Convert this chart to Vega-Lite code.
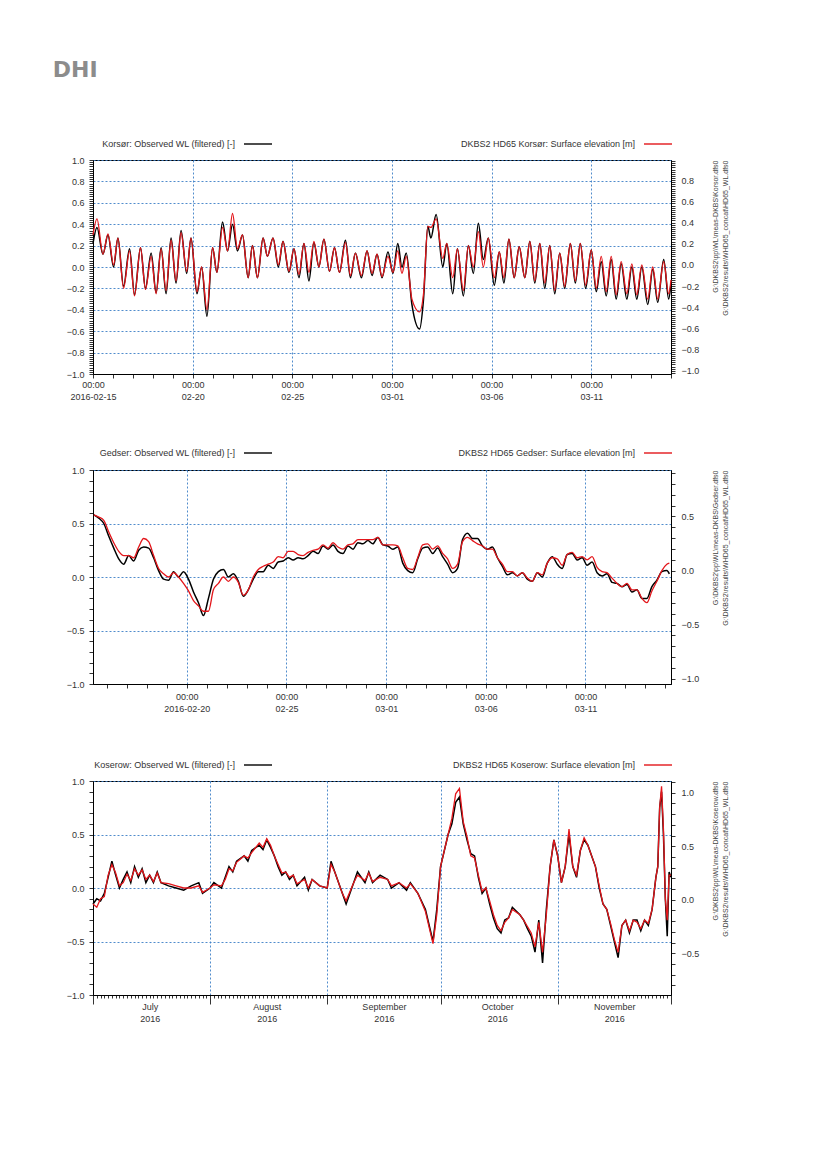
{
"$schema": "https://vega.github.io/schema/vega-lite/v6.json",
"background": "white",
"padding": {"left": 52, "top": 58, "right": 5, "bottom": 5},
"title": {"text": "DHI", "anchor": "start", "fontSize": 22, "fontWeight": "bold", "color": "#8c8c8c", "font": "DejaVu Sans", "offset": 47, "dx": -13},
"spacing": 35,
"resolve": {"scale": {"color": "independent", "stroke": "independent"}},
"datasets": {
"korsor": [
{"t":"2016-02-15T00:00","obs":0.22,"mod":0.30},
{"t":"2016-02-15T04:48","obs":0.37,"mod":0.45},
{"t":"2016-02-15T12:00","obs":0.12,"mod":0.12},
{"t":"2016-02-15T18:00","obs":0.30,"mod":0.31},
{"t":"2016-02-16T00:48","obs":0.00,"mod":0.02},
{"t":"2016-02-16T06:00","obs":0.27,"mod":0.27},
{"t":"2016-02-16T12:48","obs":-0.18,"mod":-0.20},
{"t":"2016-02-16T20:00","obs":0.17,"mod":0.15},
{"t":"2016-02-17T02:00","obs":-0.26,"mod":-0.27},
{"t":"2016-02-17T09:12","obs":0.18,"mod":0.18},
{"t":"2016-02-17T15:12","obs":-0.20,"mod":-0.21},
{"t":"2016-02-17T22:00","obs":0.13,"mod":0.10},
{"t":"2016-02-18T04:00","obs":-0.24,"mod":-0.25},
{"t":"2016-02-18T10:00","obs":0.18,"mod":0.17},
{"t":"2016-02-18T16:00","obs":-0.25,"mod":-0.22},
{"t":"2016-02-18T22:00","obs":0.27,"mod":0.25},
{"t":"2016-02-19T04:00","obs":-0.15,"mod":-0.13},
{"t":"2016-02-19T10:00","obs":0.34,"mod":0.32},
{"t":"2016-02-19T16:48","obs":-0.06,"mod":-0.04},
{"t":"2016-02-19T22:00","obs":0.27,"mod":0.27},
{"t":"2016-02-20T05:12","obs":-0.25,"mod":-0.23},
{"t":"2016-02-20T10:48","obs":0.00,"mod":0.00},
{"t":"2016-02-20T17:12","obs":-0.46,"mod":-0.40},
{"t":"2016-02-21T00:00","obs":0.18,"mod":0.18},
{"t":"2016-02-21T05:12","obs":-0.05,"mod":-0.05},
{"t":"2016-02-21T12:00","obs":0.42,"mod":0.37},
{"t":"2016-02-21T18:00","obs":0.15,"mod":0.15},
{"t":"2016-02-22T00:00","obs":0.40,"mod":0.50},
{"t":"2016-02-22T06:00","obs":0.15,"mod":0.17},
{"t":"2016-02-22T12:00","obs":0.30,"mod":0.30},
{"t":"2016-02-22T18:48","obs":-0.10,"mod":-0.10},
{"t":"2016-02-23T00:00","obs":0.20,"mod":0.20},
{"t":"2016-02-23T06:00","obs":-0.10,"mod":-0.10},
{"t":"2016-02-23T12:48","obs":0.27,"mod":0.27},
{"t":"2016-02-23T18:00","obs":0.10,"mod":0.10},
{"t":"2016-02-24T00:48","obs":0.27,"mod":0.27},
{"t":"2016-02-24T07:12","obs":0.00,"mod":0.02},
{"t":"2016-02-24T12:48","obs":0.24,"mod":0.24},
{"t":"2016-02-24T20:00","obs":-0.05,"mod":-0.04},
{"t":"2016-02-25T02:00","obs":0.17,"mod":0.17},
{"t":"2016-02-25T08:00","obs":-0.10,"mod":-0.07},
{"t":"2016-02-25T14:00","obs":0.22,"mod":0.22},
{"t":"2016-02-25T20:00","obs":-0.13,"mod":-0.05},
{"t":"2016-02-26T02:00","obs":0.23,"mod":0.24},
{"t":"2016-02-26T08:00","obs":0.00,"mod":0.00},
{"t":"2016-02-26T14:00","obs":0.26,"mod":0.26},
{"t":"2016-02-26T20:48","obs":-0.04,"mod":-0.04},
{"t":"2016-02-27T02:48","obs":0.18,"mod":0.18},
{"t":"2016-02-27T08:48","obs":-0.05,"mod":-0.05},
{"t":"2016-02-27T16:00","obs":0.25,"mod":0.23},
{"t":"2016-02-27T22:00","obs":-0.10,"mod":-0.08},
{"t":"2016-02-28T04:00","obs":0.13,"mod":0.13},
{"t":"2016-02-28T11:12","obs":-0.10,"mod":-0.08},
{"t":"2016-02-28T18:00","obs":0.15,"mod":0.15},
{"t":"2016-02-29T00:00","obs":-0.08,"mod":-0.06},
{"t":"2016-02-29T06:00","obs":0.12,"mod":0.12},
{"t":"2016-02-29T12:00","obs":-0.10,"mod":-0.09},
{"t":"2016-02-29T19:12","obs":0.14,"mod":0.10},
{"t":"2016-03-01T01:12","obs":-0.06,"mod":-0.05},
{"t":"2016-03-01T07:00","obs":0.22,"mod":0.15},
{"t":"2016-03-01T12:00","obs":0.00,"mod":-0.06},
{"t":"2016-03-01T17:12","obs":0.13,"mod":0.10},
{"t":"2016-03-02T00:00","obs":-0.35,"mod":-0.30},
{"t":"2016-03-02T09:12","obs":-0.58,"mod":-0.42},
{"t":"2016-03-02T14:00","obs":-0.30,"mod":-0.25},
{"t":"2016-03-02T19:12","obs":0.38,"mod":0.38},
{"t":"2016-03-02T22:48","obs":0.27,"mod":0.37},
{"t":"2016-03-03T05:12","obs":0.49,"mod":0.45},
{"t":"2016-03-03T13:12","obs":0.00,"mod":0.08},
{"t":"2016-03-03T18:00","obs":0.22,"mod":0.22},
{"t":"2016-03-04T01:12","obs":-0.25,"mod":-0.10},
{"t":"2016-03-04T06:48","obs":0.17,"mod":0.17},
{"t":"2016-03-04T14:00","obs":-0.27,"mod":-0.22},
{"t":"2016-03-04T20:00","obs":0.20,"mod":0.20},
{"t":"2016-03-05T02:00","obs":-0.06,"mod":0.00},
{"t":"2016-03-05T08:00","obs":0.41,"mod":0.33},
{"t":"2016-03-05T14:00","obs":0.07,"mod":0.00},
{"t":"2016-03-05T20:00","obs":0.27,"mod":0.27},
{"t":"2016-03-06T03:12","obs":-0.17,"mod":-0.10},
{"t":"2016-03-06T09:12","obs":0.14,"mod":0.14},
{"t":"2016-03-06T14:48","obs":-0.15,"mod":-0.10},
{"t":"2016-03-06T20:48","obs":0.26,"mod":0.26},
{"t":"2016-03-07T03:12","obs":-0.10,"mod":-0.10},
{"t":"2016-03-07T09:12","obs":0.19,"mod":0.19},
{"t":"2016-03-07T16:00","obs":-0.10,"mod":-0.10},
{"t":"2016-03-07T22:00","obs":0.24,"mod":0.24},
{"t":"2016-03-08T04:00","obs":-0.15,"mod":-0.13},
{"t":"2016-03-08T10:00","obs":0.22,"mod":0.22},
{"t":"2016-03-08T16:00","obs":-0.20,"mod":-0.15},
{"t":"2016-03-08T22:00","obs":0.20,"mod":0.20},
{"t":"2016-03-09T04:00","obs":-0.25,"mod":-0.22},
{"t":"2016-03-09T10:00","obs":0.13,"mod":0.13},
{"t":"2016-03-09T16:00","obs":-0.20,"mod":-0.18},
{"t":"2016-03-09T22:48","obs":0.22,"mod":0.22},
{"t":"2016-03-10T04:48","obs":-0.15,"mod":-0.13},
{"t":"2016-03-10T10:48","obs":0.22,"mod":0.22},
{"t":"2016-03-10T17:12","obs":-0.20,"mod":-0.17},
{"t":"2016-03-11T00:00","obs":0.16,"mod":0.16},
{"t":"2016-03-11T06:00","obs":-0.23,"mod":-0.20},
{"t":"2016-03-11T12:00","obs":0.05,"mod":0.10},
{"t":"2016-03-11T18:00","obs":-0.27,"mod":-0.23},
{"t":"2016-03-12T00:00","obs":0.07,"mod":0.10},
{"t":"2016-03-12T06:00","obs":-0.30,"mod":-0.26},
{"t":"2016-03-12T12:00","obs":0.03,"mod":0.05},
{"t":"2016-03-12T18:48","obs":-0.30,"mod":-0.25},
{"t":"2016-03-13T00:48","obs":0.00,"mod":0.03},
{"t":"2016-03-13T06:48","obs":-0.30,"mod":-0.26},
{"t":"2016-03-13T12:48","obs":0.00,"mod":0.02},
{"t":"2016-03-13T20:00","obs":-0.35,"mod":-0.30},
{"t":"2016-03-14T02:00","obs":-0.02,"mod":0.00},
{"t":"2016-03-14T08:00","obs":-0.33,"mod":-0.30},
{"t":"2016-03-14T15:12","obs":0.07,"mod":0.05},
{"t":"2016-03-14T21:12","obs":-0.30,"mod":-0.25},
{"t":"2016-03-15T00:00","obs":-0.15,"mod":-0.12}
],
"gedser": [
{"t":"2016-02-15T08:00","obs":0.58,"mod":0.58},
{"t":"2016-02-15T14:00","obs":0.55,"mod":0.56},
{"t":"2016-02-15T20:00","obs":0.50,"mod":0.53},
{"t":"2016-02-16T02:00","obs":0.38,"mod":0.42},
{"t":"2016-02-16T08:00","obs":0.27,"mod":0.32},
{"t":"2016-02-16T14:00","obs":0.17,"mod":0.24},
{"t":"2016-02-16T20:00","obs":0.12,"mod":0.20},
{"t":"2016-02-17T02:00","obs":0.20,"mod":0.20},
{"t":"2016-02-17T08:00","obs":0.15,"mod":0.18},
{"t":"2016-02-17T14:00","obs":0.25,"mod":0.28},
{"t":"2016-02-17T20:00","obs":0.28,"mod":0.36},
{"t":"2016-02-18T02:00","obs":0.27,"mod":0.33},
{"t":"2016-02-18T08:00","obs":0.18,"mod":0.20},
{"t":"2016-02-18T14:00","obs":0.06,"mod":0.08},
{"t":"2016-02-18T20:00","obs":-0.02,"mod":0.03},
{"t":"2016-02-19T02:00","obs":-0.03,"mod":0.00},
{"t":"2016-02-19T08:00","obs":0.05,"mod":0.04},
{"t":"2016-02-19T14:00","obs":0.00,"mod":0.00},
{"t":"2016-02-19T20:00","obs":0.05,"mod":-0.06},
{"t":"2016-02-20T02:00","obs":-0.02,"mod":-0.13},
{"t":"2016-02-20T08:00","obs":-0.14,"mod":-0.22},
{"t":"2016-02-20T14:00","obs":-0.24,"mod":-0.27},
{"t":"2016-02-20T20:00","obs":-0.36,"mod":-0.32},
{"t":"2016-02-21T02:00","obs":-0.20,"mod":-0.32},
{"t":"2016-02-21T08:00","obs":-0.02,"mod":-0.12},
{"t":"2016-02-21T14:00","obs":0.05,"mod":-0.06},
{"t":"2016-02-21T20:00","obs":0.07,"mod":0.00},
{"t":"2016-02-22T02:00","obs":0.00,"mod":-0.04},
{"t":"2016-02-22T08:00","obs":0.03,"mod":0.00},
{"t":"2016-02-22T14:00","obs":-0.04,"mod":-0.05},
{"t":"2016-02-22T20:00","obs":-0.18,"mod":-0.17},
{"t":"2016-02-23T02:00","obs":-0.12,"mod":-0.12},
{"t":"2016-02-23T08:00","obs":-0.02,"mod":0.00},
{"t":"2016-02-23T14:00","obs":0.05,"mod":0.07},
{"t":"2016-02-23T20:00","obs":0.05,"mod":0.10},
{"t":"2016-02-24T02:00","obs":0.11,"mod":0.12},
{"t":"2016-02-24T08:00","obs":0.08,"mod":0.14},
{"t":"2016-02-24T14:00","obs":0.14,"mod":0.19},
{"t":"2016-02-24T20:00","obs":0.15,"mod":0.18},
{"t":"2016-02-25T02:00","obs":0.18,"mod":0.24},
{"t":"2016-02-25T08:00","obs":0.16,"mod":0.24},
{"t":"2016-02-25T14:00","obs":0.18,"mod":0.21},
{"t":"2016-02-25T20:00","obs":0.17,"mod":0.20},
{"t":"2016-02-26T02:00","obs":0.20,"mod":0.23},
{"t":"2016-02-26T08:00","obs":0.24,"mod":0.25},
{"t":"2016-02-26T14:00","obs":0.22,"mod":0.26},
{"t":"2016-02-26T20:00","obs":0.29,"mod":0.30},
{"t":"2016-02-27T02:00","obs":0.26,"mod":0.27},
{"t":"2016-02-27T08:00","obs":0.30,"mod":0.32},
{"t":"2016-02-27T14:00","obs":0.24,"mod":0.28},
{"t":"2016-02-27T20:00","obs":0.22,"mod":0.26},
{"t":"2016-02-28T02:00","obs":0.29,"mod":0.30},
{"t":"2016-02-28T08:00","obs":0.26,"mod":0.31},
{"t":"2016-02-28T14:00","obs":0.32,"mod":0.35},
{"t":"2016-02-28T20:00","obs":0.31,"mod":0.35},
{"t":"2016-02-29T02:00","obs":0.34,"mod":0.35},
{"t":"2016-02-29T08:00","obs":0.31,"mod":0.35},
{"t":"2016-02-29T14:00","obs":0.37,"mod":0.37},
{"t":"2016-02-29T20:00","obs":0.30,"mod":0.30},
{"t":"2016-03-01T02:00","obs":0.29,"mod":0.30},
{"t":"2016-03-01T08:00","obs":0.26,"mod":0.30},
{"t":"2016-03-01T14:00","obs":0.28,"mod":0.29},
{"t":"2016-03-01T20:00","obs":0.13,"mod":0.18},
{"t":"2016-03-02T02:00","obs":0.06,"mod":0.08},
{"t":"2016-03-02T08:00","obs":0.04,"mod":0.07},
{"t":"2016-03-02T14:00","obs":0.17,"mod":0.18},
{"t":"2016-03-02T20:00","obs":0.27,"mod":0.30},
{"t":"2016-03-03T02:00","obs":0.28,"mod":0.31},
{"t":"2016-03-03T08:00","obs":0.22,"mod":0.26},
{"t":"2016-03-03T14:00","obs":0.27,"mod":0.29},
{"t":"2016-03-03T20:00","obs":0.19,"mod":0.22},
{"t":"2016-03-04T02:00","obs":0.12,"mod":0.17},
{"t":"2016-03-04T08:00","obs":0.04,"mod":0.08},
{"t":"2016-03-04T14:00","obs":0.08,"mod":0.12},
{"t":"2016-03-04T20:00","obs":0.35,"mod":0.33},
{"t":"2016-03-05T02:00","obs":0.41,"mod":0.37},
{"t":"2016-03-05T08:00","obs":0.36,"mod":0.34},
{"t":"2016-03-05T14:00","obs":0.36,"mod":0.31},
{"t":"2016-03-05T20:00","obs":0.29,"mod":0.29},
{"t":"2016-03-06T02:00","obs":0.26,"mod":0.26},
{"t":"2016-03-06T08:00","obs":0.28,"mod":0.26},
{"t":"2016-03-06T14:00","obs":0.18,"mod":0.18},
{"t":"2016-03-06T20:00","obs":0.10,"mod":0.12},
{"t":"2016-03-07T02:00","obs":0.02,"mod":0.05},
{"t":"2016-03-07T08:00","obs":0.04,"mod":0.05},
{"t":"2016-03-07T14:00","obs":0.01,"mod":0.01},
{"t":"2016-03-07T20:00","obs":0.04,"mod":0.04},
{"t":"2016-03-08T02:00","obs":-0.02,"mod":-0.01},
{"t":"2016-03-08T08:00","obs":-0.04,"mod":-0.04},
{"t":"2016-03-08T14:00","obs":0.04,"mod":0.04},
{"t":"2016-03-08T20:00","obs":0.00,"mod":0.02},
{"t":"2016-03-09T02:00","obs":0.13,"mod":0.13},
{"t":"2016-03-09T08:00","obs":0.19,"mod":0.18},
{"t":"2016-03-09T14:00","obs":0.12,"mod":0.17},
{"t":"2016-03-09T20:00","obs":0.08,"mod":0.11},
{"t":"2016-03-10T02:00","obs":0.21,"mod":0.21},
{"t":"2016-03-10T08:00","obs":0.22,"mod":0.23},
{"t":"2016-03-10T14:00","obs":0.16,"mod":0.18},
{"t":"2016-03-10T20:00","obs":0.18,"mod":0.19},
{"t":"2016-03-11T02:00","obs":0.11,"mod":0.16},
{"t":"2016-03-11T08:00","obs":0.14,"mod":0.19},
{"t":"2016-03-11T14:00","obs":0.04,"mod":0.09},
{"t":"2016-03-11T20:00","obs":0.01,"mod":0.05},
{"t":"2016-03-12T02:00","obs":0.03,"mod":0.04},
{"t":"2016-03-12T08:00","obs":-0.05,"mod":-0.01},
{"t":"2016-03-12T14:00","obs":-0.06,"mod":-0.06},
{"t":"2016-03-12T20:00","obs":-0.09,"mod":-0.09},
{"t":"2016-03-13T02:00","obs":-0.07,"mod":-0.06},
{"t":"2016-03-13T08:00","obs":-0.14,"mod":-0.12},
{"t":"2016-03-13T14:00","obs":-0.12,"mod":-0.12},
{"t":"2016-03-13T20:00","obs":-0.20,"mod":-0.20},
{"t":"2016-03-14T02:00","obs":-0.20,"mod":-0.24},
{"t":"2016-03-14T08:00","obs":-0.09,"mod":-0.13},
{"t":"2016-03-14T14:00","obs":-0.03,"mod":-0.04},
{"t":"2016-03-14T20:00","obs":0.05,"mod":0.06},
{"t":"2016-03-15T02:00","obs":0.06,"mod":0.12},
{"t":"2016-03-15T05:00","obs":0.03,"mod":0.13}
],
"koserow": [
{"t":"2016-07-01T00:00","obs":-0.15,"mod":-0.15},
{"t":"2016-07-02T00:00","obs":-0.10,"mod":-0.18},
{"t":"2016-07-03T00:00","obs":-0.12,"mod":-0.10},
{"t":"2016-07-04T00:00","obs":-0.05,"mod":-0.08},
{"t":"2016-07-05T00:00","obs":0.10,"mod":0.12},
{"t":"2016-07-06T00:00","obs":0.25,"mod":0.22},
{"t":"2016-07-07T00:00","obs":0.12,"mod":0.14},
{"t":"2016-07-08T00:00","obs":0.00,"mod":0.02},
{"t":"2016-07-09T00:00","obs":0.08,"mod":0.05},
{"t":"2016-07-10T00:00","obs":0.15,"mod":0.13},
{"t":"2016-07-11T00:00","obs":0.05,"mod":0.07},
{"t":"2016-07-12T00:00","obs":0.20,"mod":0.18},
{"t":"2016-07-13T00:00","obs":0.10,"mod":0.12},
{"t":"2016-07-14T00:00","obs":0.18,"mod":0.17},
{"t":"2016-07-15T00:00","obs":0.05,"mod":0.08},
{"t":"2016-07-16T00:00","obs":0.12,"mod":0.12},
{"t":"2016-07-17T00:00","obs":0.05,"mod":0.06},
{"t":"2016-07-18T00:00","obs":0.15,"mod":0.14},
{"t":"2016-07-19T00:00","obs":0.05,"mod":0.05},
{"t":"2016-07-21T00:00","obs":0.02,"mod":0.04},
{"t":"2016-07-23T00:00","obs":0.00,"mod":0.02},
{"t":"2016-07-25T00:00","obs":-0.02,"mod":0.00},
{"t":"2016-07-27T00:00","obs":0.02,"mod":0.00},
{"t":"2016-07-29T00:00","obs":0.05,"mod":0.02},
{"t":"2016-07-30T00:00","obs":-0.05,"mod":-0.04},
{"t":"2016-08-01T00:00","obs":0.00,"mod":0.00},
{"t":"2016-08-02T00:00","obs":0.05,"mod":0.03},
{"t":"2016-08-04T00:00","obs":0.00,"mod":0.02},
{"t":"2016-08-05T00:00","obs":0.10,"mod":0.08},
{"t":"2016-08-06T00:00","obs":0.20,"mod":0.18},
{"t":"2016-08-07T00:00","obs":0.15,"mod":0.16},
{"t":"2016-08-08T00:00","obs":0.25,"mod":0.24},
{"t":"2016-08-10T00:00","obs":0.30,"mod":0.30},
{"t":"2016-08-11T00:00","obs":0.25,"mod":0.28},
{"t":"2016-08-12T00:00","obs":0.35,"mod":0.33},
{"t":"2016-08-14T00:00","obs":0.40,"mod":0.42},
{"t":"2016-08-15T00:00","obs":0.36,"mod":0.38},
{"t":"2016-08-16T00:00","obs":0.45,"mod":0.46},
{"t":"2016-08-17T00:00","obs":0.38,"mod":0.40},
{"t":"2016-08-18T00:00","obs":0.30,"mod":0.30},
{"t":"2016-08-19T00:00","obs":0.20,"mod":0.22},
{"t":"2016-08-20T00:00","obs":0.12,"mod":0.14},
{"t":"2016-08-21T00:00","obs":0.15,"mod":0.15},
{"t":"2016-08-22T00:00","obs":0.08,"mod":0.10},
{"t":"2016-08-23T00:00","obs":0.12,"mod":0.12},
{"t":"2016-08-24T00:00","obs":0.02,"mod":0.04},
{"t":"2016-08-26T00:00","obs":0.10,"mod":0.08},
{"t":"2016-08-27T00:00","obs":-0.02,"mod":0.00},
{"t":"2016-08-28T00:00","obs":0.08,"mod":0.08},
{"t":"2016-08-30T00:00","obs":0.02,"mod":0.02},
{"t":"2016-09-01T00:00","obs":0.00,"mod":0.00},
{"t":"2016-09-02T00:00","obs":0.25,"mod":0.22},
{"t":"2016-09-03T00:00","obs":0.15,"mod":0.15},
{"t":"2016-09-05T00:00","obs":-0.05,"mod":-0.05},
{"t":"2016-09-06T00:00","obs":-0.15,"mod":-0.12},
{"t":"2016-09-08T00:00","obs":0.05,"mod":0.05},
{"t":"2016-09-09T00:00","obs":0.15,"mod":0.12},
{"t":"2016-09-11T00:00","obs":0.05,"mod":0.07},
{"t":"2016-09-12T00:00","obs":0.15,"mod":0.14},
{"t":"2016-09-13T00:00","obs":0.05,"mod":0.06},
{"t":"2016-09-15T00:00","obs":0.12,"mod":0.10},
{"t":"2016-09-17T00:00","obs":0.08,"mod":0.08},
{"t":"2016-09-18T00:00","obs":0.00,"mod":0.02},
{"t":"2016-09-20T00:00","obs":0.05,"mod":0.05},
{"t":"2016-09-22T00:00","obs":-0.02,"mod":0.00},
{"t":"2016-09-23T00:00","obs":0.05,"mod":0.04},
{"t":"2016-09-25T00:00","obs":-0.05,"mod":-0.05},
{"t":"2016-09-27T00:00","obs":-0.20,"mod":-0.22},
{"t":"2016-09-29T00:00","obs":-0.50,"mod":-0.52},
{"t":"2016-09-30T00:00","obs":-0.20,"mod":-0.25},
{"t":"2016-10-01T00:00","obs":0.20,"mod":0.20},
{"t":"2016-10-03T00:00","obs":0.50,"mod":0.50},
{"t":"2016-10-04T00:00","obs":0.60,"mod":0.65},
{"t":"2016-10-05T00:00","obs":0.80,"mod":0.88},
{"t":"2016-10-06T00:00","obs":0.85,"mod":0.93},
{"t":"2016-10-07T00:00","obs":0.60,"mod":0.62},
{"t":"2016-10-08T00:00","obs":0.45,"mod":0.48},
{"t":"2016-10-09T00:00","obs":0.32,"mod":0.30},
{"t":"2016-10-10T00:00","obs":0.30,"mod":0.28},
{"t":"2016-10-11T00:00","obs":0.10,"mod":0.12},
{"t":"2016-10-12T00:00","obs":-0.05,"mod":-0.03},
{"t":"2016-10-13T00:00","obs":0.00,"mod":0.00},
{"t":"2016-10-14T00:00","obs":-0.15,"mod":-0.12},
{"t":"2016-10-15T00:00","obs":-0.28,"mod":-0.25},
{"t":"2016-10-16T00:00","obs":-0.38,"mod":-0.35},
{"t":"2016-10-17T00:00","obs":-0.42,"mod":-0.40},
{"t":"2016-10-18T00:00","obs":-0.30,"mod":-0.32},
{"t":"2016-10-19T00:00","obs":-0.28,"mod":-0.28},
{"t":"2016-10-20T00:00","obs":-0.18,"mod":-0.20},
{"t":"2016-10-22T00:00","obs":-0.25,"mod":-0.25},
{"t":"2016-10-23T00:00","obs":-0.30,"mod":-0.30},
{"t":"2016-10-24T00:00","obs":-0.38,"mod":-0.36},
{"t":"2016-10-25T00:00","obs":-0.45,"mod":-0.42},
{"t":"2016-10-26T00:00","obs":-0.60,"mod":-0.55},
{"t":"2016-10-27T00:00","obs":-0.30,"mod":-0.32},
{"t":"2016-10-28T00:00","obs":-0.70,"mod":-0.60},
{"t":"2016-10-29T00:00","obs":-0.20,"mod":-0.25},
{"t":"2016-10-30T00:00","obs":0.20,"mod":0.20},
{"t":"2016-10-31T00:00","obs":0.45,"mod":0.45},
{"t":"2016-11-01T00:00","obs":0.30,"mod":0.30},
{"t":"2016-11-02T00:00","obs":0.05,"mod":0.05},
{"t":"2016-11-03T00:00","obs":0.20,"mod":0.20},
{"t":"2016-11-04T00:00","obs":0.50,"mod":0.55},
{"t":"2016-11-05T00:00","obs":0.20,"mod":0.20},
{"t":"2016-11-06T00:00","obs":0.10,"mod":0.12},
{"t":"2016-11-07T00:00","obs":0.35,"mod":0.35},
{"t":"2016-11-08T00:00","obs":0.45,"mod":0.47},
{"t":"2016-11-09T00:00","obs":0.40,"mod":0.40},
{"t":"2016-11-10T00:00","obs":0.30,"mod":0.30},
{"t":"2016-11-11T00:00","obs":0.20,"mod":0.20},
{"t":"2016-11-12T00:00","obs":0.00,"mod":0.02},
{"t":"2016-11-13T00:00","obs":-0.15,"mod":-0.15},
{"t":"2016-11-14T00:00","obs":-0.20,"mod":-0.20},
{"t":"2016-11-15T00:00","obs":-0.35,"mod":-0.33},
{"t":"2016-11-16T00:00","obs":-0.50,"mod":-0.48},
{"t":"2016-11-17T00:00","obs":-0.65,"mod":-0.60},
{"t":"2016-11-18T00:00","obs":-0.35,"mod":-0.35},
{"t":"2016-11-19T00:00","obs":-0.30,"mod":-0.30},
{"t":"2016-11-20T00:00","obs":-0.42,"mod":-0.40},
{"t":"2016-11-21T00:00","obs":-0.30,"mod":-0.30},
{"t":"2016-11-22T00:00","obs":-0.30,"mod":-0.32},
{"t":"2016-11-23T00:00","obs":-0.40,"mod":-0.38},
{"t":"2016-11-24T00:00","obs":-0.30,"mod":-0.30},
{"t":"2016-11-25T00:00","obs":-0.35,"mod":-0.33},
{"t":"2016-11-26T00:00","obs":-0.20,"mod":-0.20},
{"t":"2016-11-27T00:00","obs":0.10,"mod":0.10},
{"t":"2016-11-27T12:00","obs":0.20,"mod":0.20},
{"t":"2016-11-28T00:00","obs":0.75,"mod":0.75},
{"t":"2016-11-28T12:00","obs":0.90,"mod":0.95},
{"t":"2016-11-29T00:00","obs":0.50,"mod":0.55},
{"t":"2016-11-29T12:00","obs":-0.10,"mod":-0.10},
{"t":"2016-11-30T00:00","obs":-0.45,"mod":-0.30},
{"t":"2016-11-30T12:00","obs":0.15,"mod":0.12},
{"t":"2016-12-01T00:00","obs":0.10,"mod":0.12}
]
},
"vconcat": [
{
"width": 578, "height": 214,
"data": {"name": "korsor"},
"resolve": {"scale": {"y": "independent"}},
"layer": [
{"mark": {"type": "line", "color": "#000000", "strokeWidth": 1.5, "interpolate": "monotone"},
 "encoding": {
  "x": {"field": "t", "type": "temporal", "scale": {"domain": [{"year": 2016, "month": 2, "date": 15}, {"year": 2016, "month": 3, "date": 15}], "nice": false},
        "axis": {"title": null, "tickCount": {"interval": "day", "step": 1}, "tickSize": 4, "labelPadding": 2, "labelLineHeight": 12, "grid": true,
                 "gridOpacity": {"condition": {"test": "round((datum.value-datetime(2016,1,15))/86400000)%5==0", "value": 1}, "value": 0},
                 "labelExpr": "round((datum.value-datetime(2016,1,15))/86400000)%5==0 ? [timeFormat(datum.value,'%H:%M'), timeFormat(datum.value,'%m-%d')=='02-15' ? timeFormat(datum.value,'%Y-%m-%d') : timeFormat(datum.value,'%m-%d')] : ''"}},
  "y": {"field": "obs", "type": "quantitative", "scale": {"domain": [-1, 1], "nice": false},
        "axis": {"title": null, "tickCount": 100, "tickSize": 4, "labelPadding": 5, "grid": true,
                 "gridOpacity": {"condition": {"test": "abs(datum.value*5-round(datum.value*5))<0.001", "value": 1}, "value": 0},
                 "labelExpr": "abs(datum.value*5-round(datum.value*5))<0.001 ? format(datum.value,'.1f') : ''"}},
  "stroke": {"datum": "Korsør: Observed WL (filtered) [-]", "type": "nominal", "scale": {"range": ["#000000"]},
             "legend": {"orient": "none", "legendX": 150, "legendY": -31, "title": null}}
 }},
{"mark": {"type": "line", "strokeWidth": 1.3, "interpolate": "monotone"},
 "encoding": {
  "x": {"field": "t", "type": "temporal", "scale": {"domain": [{"year": 2016, "month": 2, "date": 15}, {"year": 2016, "month": 3, "date": 15}], "nice": false}},
  "y": {"field": "mod", "type": "quantitative", "scale": {"domain": [-1, 1], "nice": false}, "axis": null},
  "color": {"datum": "DKBS2 HD65 Korsør: Surface elevation [m]", "type": "nominal", "scale": {"range": ["#e3161b"]},
            "legend": {"orient": "none", "legendX": 550, "legendY": -31, "title": null}}
 }},
{"mark": {"type": "rule", "opacity": 0},
 "encoding": {
  "y": {"datum": 0, "type": "quantitative", "scale": {"domain": [-1.03, 0.99], "nice": false},
        "axis": {"orient": "right", "tickCount": 100, "tickSize": 4, "labelPadding": 6, "grid": false,
                 "labelExpr": "abs(datum.value*5-round(datum.value*5))<0.001 ? format(datum.value,'.1f') : ''",
                 "title": ["G:\\DKBS2\\pp\\WL\\meas-DKBS\\Korsor.dfs0", "G:\\DKBS2\\results\\WHD65_concat\\HD65_WL.dfs0"],
                 "titleAngle": 270, "titleBaseline": "top", "titleAnchor": "end", "titleFontSize": 7, "titleFontWeight": "normal", "titleColor": "#444444", "titlePadding": 3, "titleLineHeight": 10}}
 }}
]
},
{
"width": 578, "height": 214,
"data": {"name": "gedser"},
"resolve": {"scale": {"y": "independent"}},
"layer": [
{"mark": {"type": "line", "color": "#000000", "strokeWidth": 1.5, "interpolate": "monotone"},
 "encoding": {
  "x": {"field": "t", "type": "temporal", "scale": {"domain": [{"year": 2016, "month": 2, "date": 15, "hours": 7}, {"year": 2016, "month": 3, "date": 15, "hours": 7}], "nice": false},
        "axis": {"title": null, "tickCount": {"interval": "day", "step": 1}, "tickSize": 4, "labelPadding": 4, "labelLineHeight": 12, "grid": true,
                 "gridOpacity": {"condition": {"test": "round((datum.value-datetime(2016,1,15))/86400000)%5==0", "value": 1}, "value": 0},
                 "labelExpr": "round((datum.value-datetime(2016,1,15))/86400000)%5==0 ? [timeFormat(datum.value,'%H:%M'), timeFormat(datum.value,'%m-%d')=='02-20' ? timeFormat(datum.value,'%Y-%m-%d') : timeFormat(datum.value,'%m-%d')] : ''"}},
  "y": {"field": "obs", "type": "quantitative", "scale": {"domain": [-1, 1], "nice": false},
        "axis": {"title": null, "tickCount": 20, "tickSize": 4, "labelPadding": 5, "grid": true,
                 "gridOpacity": {"condition": {"test": "abs(datum.value*2-round(datum.value*2))<0.001", "value": 1}, "value": 0},
                 "labelExpr": "abs(datum.value*2-round(datum.value*2))<0.001 ? format(datum.value,'.1f') : ''"}},
  "stroke": {"datum": "Gedser: Observed WL (filtered) [-]", "type": "nominal", "scale": {"range": ["#000000"]},
             "legend": {"orient": "none", "legendX": 150, "legendY": -32, "title": null}}
 }},
{"mark": {"type": "line", "strokeWidth": 1.3, "interpolate": "monotone"},
 "encoding": {
  "x": {"field": "t", "type": "temporal", "scale": {"domain": [{"year": 2016, "month": 2, "date": 15, "hours": 7}, {"year": 2016, "month": 3, "date": 15, "hours": 7}], "nice": false}},
  "y": {"field": "mod", "type": "quantitative", "scale": {"domain": [-1, 1], "nice": false}, "axis": null},
  "color": {"datum": "DKBS2 HD65 Gedser: Surface elevation [m]", "type": "nominal", "scale": {"range": ["#e3161b"]},
            "legend": {"orient": "none", "legendX": 550, "legendY": -32, "title": null}}
 }},
{"mark": {"type": "rule", "opacity": 0},
 "encoding": {
  "y": {"datum": 0, "type": "quantitative", "scale": {"domain": [-1.05, 0.93], "nice": false},
        "axis": {"orient": "right", "tickCount": 20, "tickSize": 4, "labelPadding": 6, "grid": false,
                 "labelExpr": "abs(datum.value*2-round(datum.value*2))<0.001 ? format(datum.value,'.1f') : ''",
                 "title": ["G:\\DKBS2\\pp\\WL\\meas-DKBS\\Gedser.dfs0", "G:\\DKBS2\\results\\WHD65_concat\\HD65_WL.dfs0"],
                 "titleAngle": 270, "titleBaseline": "top", "titleAnchor": "end", "titleFontSize": 7, "titleFontWeight": "normal", "titleColor": "#444444", "titlePadding": 3, "titleLineHeight": 10}}
 }}
]
},
{
"width": 578, "height": 214,
"data": {"name": "koserow"},
"resolve": {"scale": {"y": "independent"}},
"layer": [
{"mark": {"type": "line", "color": "#000000", "strokeWidth": 1.5},
 "encoding": {
  "x": {"field": "t", "type": "temporal", "scale": {"domain": [{"year": 2016, "month": 7, "date": 1}, {"year": 2016, "month": 12, "date": 1}], "nice": false},
        "axis": {"title": null, "tickCount": {"interval": "day", "step": 1},
                 "tickSize": {"condition": {"test": "date(datum.value)==1", "value": 9}, "value": 3},
                 "labelPadding": 4, "labelLineHeight": 12, "grid": true,
                 "gridOpacity": {"condition": {"test": "date(datum.value)==1", "value": 1}, "value": 0},
                 "labelExpr": "date(datum.value)==16 ? [timeFormat(datum.value,'%B'), timeFormat(datum.value,'%Y')] : ''"}},
  "y": {"field": "obs", "type": "quantitative", "scale": {"domain": [-1, 1], "nice": false},
        "axis": {"title": null, "tickCount": 20, "tickSize": 4, "labelPadding": 5, "grid": true,
                 "gridOpacity": {"condition": {"test": "abs(datum.value*2-round(datum.value*2))<0.001", "value": 1}, "value": 0},
                 "labelExpr": "abs(datum.value*2-round(datum.value*2))<0.001 ? format(datum.value,'.1f') : ''"}},
  "stroke": {"datum": "Koserow: Observed WL (filtered) [-]", "type": "nominal", "scale": {"range": ["#000000"]},
             "legend": {"orient": "none", "legendX": 150, "legendY": -31, "title": null}}
 }},
{"mark": {"type": "line", "strokeWidth": 1.3},
 "encoding": {
  "x": {"field": "t", "type": "temporal", "scale": {"domain": [{"year": 2016, "month": 7, "date": 1}, {"year": 2016, "month": 12, "date": 1}], "nice": false}},
  "y": {"field": "mod", "type": "quantitative", "scale": {"domain": [-1, 1], "nice": false}, "axis": null},
  "color": {"datum": "DKBS2 HD65 Koserow: Surface elevation [m]", "type": "nominal", "scale": {"range": ["#e3161b"]},
            "legend": {"orient": "none", "legendX": 550, "legendY": -31, "title": null}}
 }},
{"mark": {"type": "rule", "opacity": 0},
 "encoding": {
  "y": {"datum": 0, "type": "quantitative", "scale": {"domain": [-0.89, 1.11], "nice": false},
        "axis": {"orient": "right", "tickCount": 20, "tickSize": 4, "labelPadding": 6, "grid": false,
                 "labelExpr": "abs(datum.value*2-round(datum.value*2))<0.001 ? format(datum.value,'.1f') : ''",
                 "title": ["G:\\DKBS2\\pp\\WL\\meas-DKBS\\Koserow.dfs0", "G:\\DKBS2\\results\\WHD65_concat\\HD65_WL.dfs0"],
                 "titleAngle": 270, "titleBaseline": "top", "titleAnchor": "end", "titleFontSize": 7, "titleFontWeight": "normal", "titleColor": "#444444", "titlePadding": 3, "titleLineHeight": 10}}
 }}
]
}
],
"config": {
 "font": "Liberation Sans",
 "view": {"stroke": "#000000", "strokeWidth": 1},
 "axis": {"labelFont": "Liberation Sans", "labelFontSize": 9, "labelColor": "#333333", "domainColor": "#000000", "tickColor": "#000000", "tickWidth": 0.8,
          "gridColor": "#3d7fc6", "gridDash": [2, 2], "gridWidth": 0.9, "labelFlush": false, "labelOverlap": false},
 "legend": {"symbolType": "stroke", "symbolSize": 784, "symbolStrokeWidth": 1.4, "labelFont": "Liberation Sans", "labelFontSize": 9, "labelColor": "#333333",
            "labelLimit": 400, "padding": 0, "labelAlign": "right", "labelOffset": -38}
}
}
